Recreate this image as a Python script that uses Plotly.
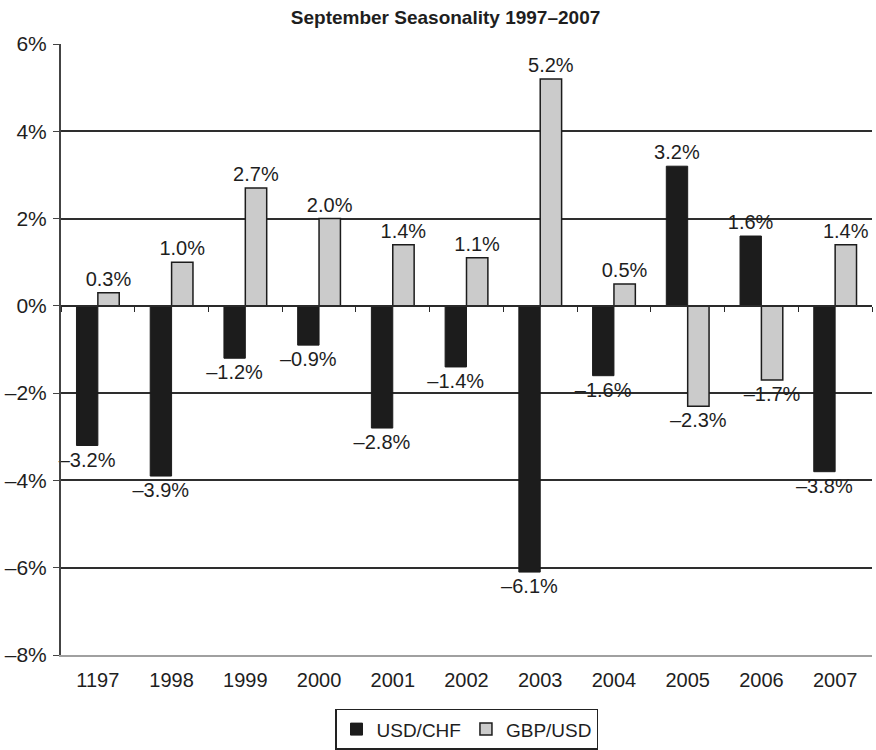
import plotly.graph_objects as go

# data
years = ["1197", "1998", "1999", "2000", "2001", "2002", "2003", "2004", "2005", "2006", "2007"]
usd_chf = [-3.2, -3.9, -1.2, -0.9, -2.8, -1.4, -6.1, -1.6, 3.2, 1.6, -3.8]
gbp_usd = [0.3, 1.0, 2.7, 2.0, 1.4, 1.1, 5.2, 0.5, -2.3, -1.7, 1.4]
y_ticks = [-8, -6, -4, -2, 0, 2, 4, 6]
inner_ticks = [-6, -4, -2, 2, 4]


def pct(v, fmt="{:.1f}%"):
    return fmt.format(v).replace("-", "\u2013")


FONT = "Liberation Sans, Arial, sans-serif"
INK = "#1e1e1e"

fig = go.Figure()

fig.add_trace(go.Bar(
    x=years, y=usd_chf, name="USD/CHF",
    marker=dict(color="#1c1c1c", line=dict(color="#1c1c1c", width=1)),
    text=[pct(v) for v in usd_chf], textposition="outside",
    textfont=dict(size=20, color=INK, family=FONT),
    cliponaxis=False, constraintext="none",
))
fig.add_trace(go.Bar(
    x=years, y=gbp_usd, name="GBP/USD",
    marker=dict(color="#cbcbcb", line=dict(color="#1c1c1c", width=1.5)),
    text=[pct(v) for v in gbp_usd], textposition="outside",
    textfont=dict(size=20, color=INK, family=FONT),
    cliponaxis=False, constraintext="none",
))
# invisible helper: carries the dark inner grid and the ticks on the zero line
fig.add_trace(go.Scatter(
    x=years, y=[0] * len(years), xaxis="x2", yaxis="y2", mode="markers",
    marker=dict(opacity=0), showlegend=False, hoverinfo="skip",
))

cat_range = [-0.5, len(years) - 0.5]

fig.update_layout(
    width=876, height=750,
    margin=dict(l=61, r=4, t=44, b=95, autoexpand=False),
    paper_bgcolor="white", plot_bgcolor="white",
    font=dict(family=FONT, color=INK, size=20),
    title=dict(text="<b>September Seasonality 1997\u20132007</b>",
               x=0.5086, xanchor="center", y=0.977, yanchor="middle",
               font=dict(size=19, family=FONT, color=INK)),
    barmode="group", bargap=0.42, bargroupgap=0,
    showlegend=True,
    legend=dict(orientation="h", x=0.5, xanchor="center", y=-0.088, yanchor="top",
                bordercolor="#222", borderwidth=1.5, font=dict(size=19),
                traceorder="normal", itemwidth=30),
    xaxis=dict(type="category", categoryarray=years, range=cat_range, showgrid=False,
               showline=True, linecolor="#a0a0a0", linewidth=1.5,
               ticks="", tickfont=dict(size=20), ticklabelstandoff=6),
    xaxis2=dict(type="category", categoryarray=years, overlaying="x", matches="x",
                anchor="free", position=8 / 14, showline=True, linecolor="#2a2a2a",
                linewidth=1.5, ticks="outside", tickson="boundaries", ticklen=5,
                tickcolor="#2a2a2a", showticklabels=False, showgrid=False),
    yaxis=dict(range=[-8, 6], tickvals=y_ticks,
               ticktext=[pct(v, "{:.0f}%") for v in y_ticks],
               showgrid=True, gridcolor="#b0b0b0", gridwidth=1.5, zeroline=False,
               showline=True, linecolor="#444444", linewidth=2,
               ticks="outside", ticklen=6, tickcolor="#444444",
               tickfont=dict(size=21), ticklabelstandoff=2),
    yaxis2=dict(overlaying="y", matches="y", anchor="x2", side="left",
                tickvals=inner_ticks, showticklabels=False, ticks="",
                showgrid=True, gridcolor="#2e2e2e", gridwidth=1.5,
                zeroline=False, showline=False),
)

# drop the default page margin so the figure sits at the window's corner
fig.write_html("out.html", config={"displayModeBar": False},
               post_script="document.body.style.margin='0';document.body.style.overflow='hidden';")
